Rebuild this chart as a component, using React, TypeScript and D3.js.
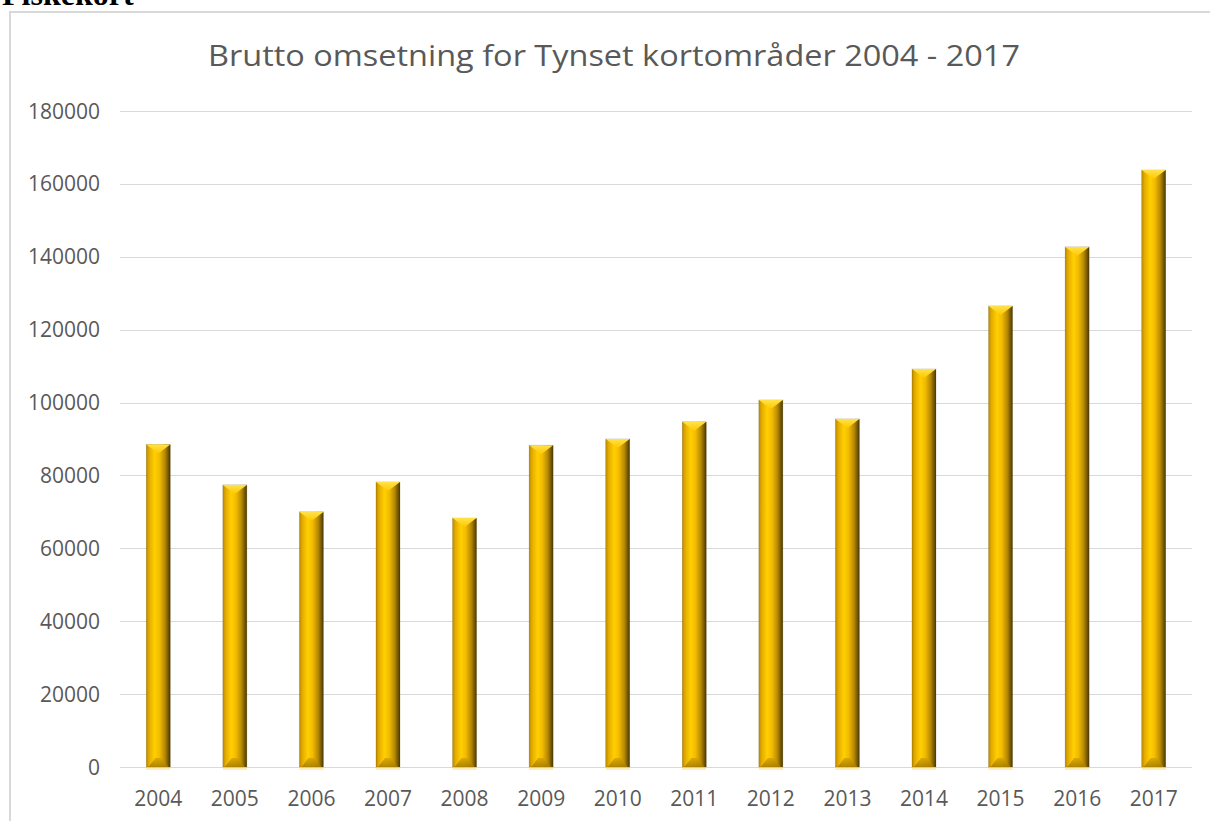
import React from "react";
import * as d3 from "d3";

const years = ["2004","2005","2006","2007","2008","2009","2010","2011","2012","2013","2014","2015","2016","2017"];
const values = [88500, 77400, 70000, 78200, 68300, 88300, 90000, 94700, 100700, 95500, 109200, 126500, 142700, 163800];
const yTicks = [0, 20000, 40000, 60000, 80000, 100000, 120000, 140000, 160000, 180000];
const title = "Brutto omsetning for Tynset kortområder 2004 - 2017";
const heading = "Fiskekort";

const W = 1210, H = 821;
const plot = { left: 120, right: 1192, top: 111, bottom: 767 };

export default function App() {
  const x = d3.scaleBand().domain(years).range([plot.left, plot.right]).paddingInner(0).paddingOuter(0);
  const y = d3.scaleLinear().domain([0, 180000]).range([plot.bottom, plot.top]);
  const bw = 24;
  const d = 9;
  const font = "'Open Sans', 'Noto Sans', sans-serif";
  return (
    <svg width={W} height={H} style={{ position: "absolute", left: 0, top: 0, background: "#fff" }}>
      <defs>
        <linearGradient id="barG" x1="0" x2="1" y1="0" y2="0">
          <stop offset="0" stopColor="#b88a00" />
          <stop offset="0.12" stopColor="#e5ab00" />
          <stop offset="0.35" stopColor="#ffd000" />
          <stop offset="0.55" stopColor="#f2bb00" />
          <stop offset="0.78" stopColor="#b58800" />
          <stop offset="1" stopColor="#4a3700" />
        </linearGradient>
        <linearGradient id="topG" x1="0" x2="0" y1="0" y2="1">
          <stop offset="0" stopColor="#ffe24a" />
          <stop offset="1" stopColor="#ffc800" />
        </linearGradient>
        <linearGradient id="botG" x1="0" x2="0" y1="0" y2="1">
          <stop offset="0" stopColor="#d9a300" />
          <stop offset="1" stopColor="#a37b00" />
        </linearGradient>
      </defs>
      <text x={2} y={5} fontFamily="'Liberation Serif', 'Times New Roman', serif" fontWeight="bold" fontSize={32} fill="#000">{heading}</text>
      <rect x={10} y={12} width={W} height={H} fill="#fff" stroke="#d9d9d9" strokeWidth={2} />
      <text x={614} y={66} textAnchor="middle" fontFamily={font} fontSize={30} fill="#595959" textLength={812} lengthAdjust="spacingAndGlyphs">{title}</text>
      {yTicks.map((t) => (
        <g key={t}>
          <line x1={plot.left} x2={plot.right} y1={Math.round(y(t)) + 0.5} y2={Math.round(y(t)) + 0.5} stroke="#d9d9d9" strokeWidth={1} />
          <text x={100} y={y(t) + 7.5} textAnchor="end" fontFamily={font} fontSize={21} fill="#595959">{t}</text>
        </g>
      ))}
      {years.map((yr, i) => {
        const cx = (x(yr) as number) + x.bandwidth() / 2;
        const x0 = cx - bw / 2;
        const top = y(values[i]);
        const bot = y(0);
        return (
          <g key={yr}>
            <rect x={x0} y={bot + 1} width={bw} height={2} fill="#ffe9a0" opacity={0.8} />
            <rect x={x0} y={top} width={bw} height={bot - top} fill="url(#barG)" stroke="rgba(90,70,0,0.35)" strokeWidth={0.6} />
            <polygon points={`${x0},${top} ${x0 + bw},${top} ${cx},${top + d}`} fill="url(#topG)" />
            <polygon points={`${x0 + 2},${bot} ${x0 + bw - 2},${bot} ${cx + 3},${bot - d} ${cx - 3},${bot - d}`} fill="url(#botG)" opacity={0.85} />
            <text x={cx} y={806} textAnchor="middle" fontFamily={font} fontSize={21} fill="#595959">{yr}</text>
          </g>
        );
      })}
    </svg>
  );
}
